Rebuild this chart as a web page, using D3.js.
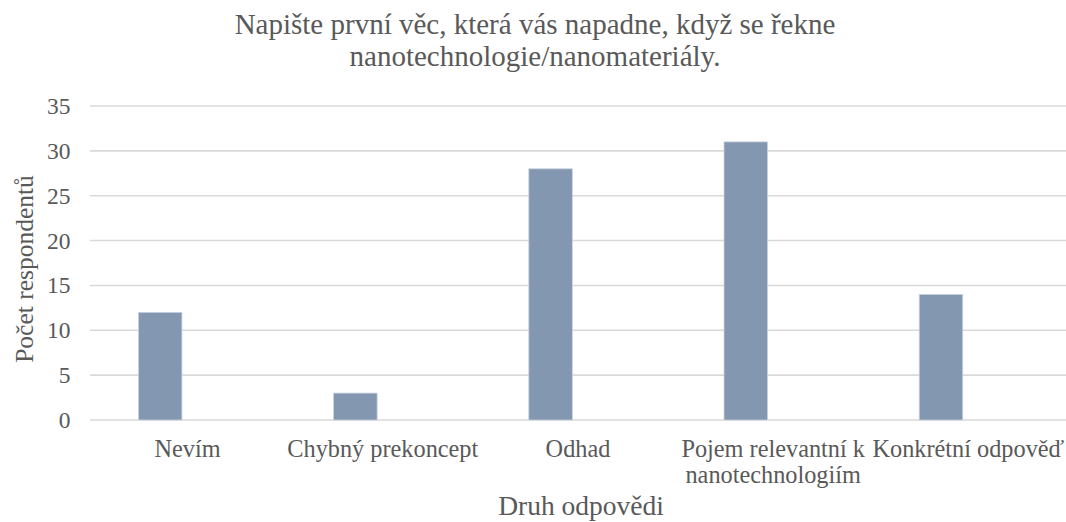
<!DOCTYPE html>
<html>
<head>
<meta charset="utf-8">
<script src="https://cdn.jsdelivr.net/npm/d3@7"></script>
<style>
  body { margin: 0; background: #fff; }
</style>
</head>
<body>
<div id="chart"></div>
<script>
// data
var categories = ["Nevím", "Chybný prekoncept", "Odhad", "Pojem relevantní k|nanotechnologiím", "Konkrétní odpověď"]
var counts = [12, 3, 28, 31, 14]
var yTicks = [0, 5, 10, 15, 20, 25, 30, 35]
var titleLines = ["Napište první věc, která vás napadne, když se řekne", "nanotechnologie/nanomateriály."]

width = 1066
height = 522
var margin = { top: 106, right: 0, bottom: 102, left: 90 }
var textColor = "#595959"
var serifFont = "'Liberation Serif', 'Times New Roman', Times, serif"

var svg = d3.select("#chart").append("svg")
    .attr("width", width).attr("height", height)

var x = d3.scaleBand()
    .domain(categories)
    .range([margin.left, width - margin.right])

// two slots per category, the second one is empty (as in the source chart)
var xInner = d3.scaleBand()
    .domain(["count", "empty"])
    .range([0.248, 0.694])

var y = d3.scaleLinear()
    .domain([0, 35])
    .range([height - margin.bottom, margin.top])

// gridlines
svg.append("g")
    .selectAll("line")
    .data(yTicks)
    .enter()
    .append("line")
    .attr("x1", margin.left)
    .attr("x2", width - margin.right)
    .attr("y1", d => y(d))
    .attr("y2", d => y(d))
    .attr("stroke", "#d9d9d9")
    .attr("stroke-width", 1.6)

// y tick labels
svg.append("g")
    .selectAll("text")
    .data(yTicks)
    .enter()
    .append("text")
    .attr("x", 70.5)
    .attr("y", d => y(d))
    .attr("dy", "0.34em")
    .attr("text-anchor", "end")
    .attr("font-size", 23.5)
    .text(d => d)

// bars
svg.append("g")
    .selectAll("rect")
    .data(categories)
    .enter()
    .append("rect")
    .attr("x", (d, i) => x(d) + xInner("count") * x.bandwidth())
    .attr("width", xInner.bandwidth() * x.bandwidth())
    .attr("y", (d, i) => y(counts[i]))
    .attr("height", (d, i) => y(0) - y(counts[i]))
    .attr("fill", "#8497b0")
    .attr("stroke", "#c9d3e0")
    .attr("stroke-width", 0.8)

// category labels
var catLabels = svg.append("g")
    .selectAll("text")
    .data(categories)
    .enter()
    .append("text")
    .attr("x", d => x(d) + x.bandwidth() / 2)
    .attr("y", 456.5)
    .attr("text-anchor", "middle")
    .attr("font-size", 24.3)

catLabels.selectAll("tspan")
    .data(d => d.split("|"))
    .enter()
    .append("tspan")
    .attr("x", function () { return d3.select(this.parentNode).attr("x") })
    .attr("dy", (d, i) => i == 0 ? 0 : 26.5)
    .text(d => d)

// title
svg.append("text")
    .attr("x", 535)
    .attr("y", 34)
    .attr("text-anchor", "middle")
    .attr("font-size", 29)
    .selectAll("tspan")
    .data(titleLines)
    .enter()
    .append("tspan")
    .attr("x", 535)
    .attr("dy", (d, i) => i == 0 ? 0 : 32)
    .text(d => d)

// axis titles
svg.append("text")
    .attr("transform", "translate(33,269) rotate(-90)")
    .attr("text-anchor", "middle")
    .attr("font-size", 25.5)
    .text("Počet respondentů")

svg.append("text")
    .attr("x", 581)
    .attr("y", 515)
    .attr("text-anchor", "middle")
    .attr("font-size", 27.5)
    .text("Druh odpovědi")

svg.selectAll("text, tspan")
    .style("font-family", serifFont)
    .attr("fill", textColor)
</script>
</body>
</html>
